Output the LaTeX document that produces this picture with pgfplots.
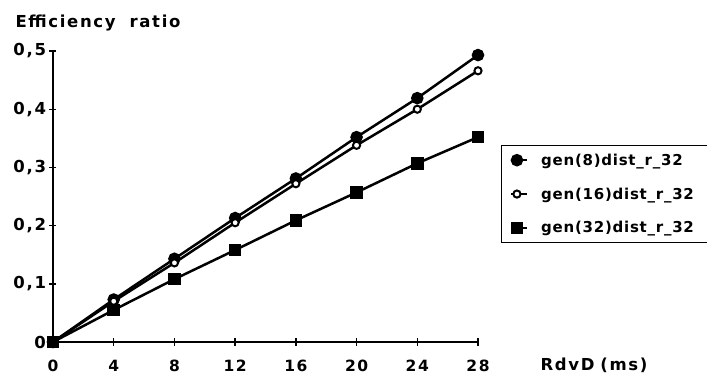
\documentclass[border=0pt]{standalone}
\usepackage{fontspec}
\setmainfont{DejaVu Sans}[LetterSpace=10]
\newfontfamily\legendfont{DejaVu Sans}[LetterSpace=5]
\usepackage{pgfplots}
\pgfplotsset{compat=1.18}
\begin{document}
\begin{tikzpicture}
\useasboundingbox (-53bp,-32bp) rectangle (654bp,342bp);
\begin{axis}[
  at={(0,0)}, anchor=south west,
  scale only axis, width=425bp, height=291bp,
  xmin=0, xmax=28, ymin=0, ymax=0.5,
  clip=false,
  axis lines=left,
  axis line style={line width=1.8bp, -},
  xtick={0,4,...,28},
  ytick={0,0.1,0.2,0.3,0.4,0.5},
  tick align=center, major tick length=7bp,
  tick style={line width=1.4bp, black},
  /pgf/number format/assume math mode=true,
  yticklabel style={/pgf/number format/use comma,
    /pgf/number format/fixed, /pgf/number format/precision=1,
    font=\fontsize{16.5bp}{18bp}\selectfont\bfseries},
  xticklabel style={font=\fontsize{15.5bp}{17bp}\selectfont\bfseries, yshift=-11bp},
  xlabel={RdvD\hspace{6bp}(ms)},
  ylabel={Efficiency\hspace{14bp}ratio},
  every axis x label/.style={at={(rel axis cs:1,0)}, anchor=base west,
    xshift=59bp, yshift=-28bp, font=\fontsize{16.5bp}{18bp}\selectfont\bfseries},
  every axis y label/.style={at={(rel axis cs:0,1)}, anchor=base west,
    xshift=-41bp, yshift=24bp, font=\fontsize{16.5bp}{18bp}\selectfont\bfseries},
  legend style={at={(rel axis cs:1.054,0.677)}, anchor=north west,
    draw=black, line width=1.5bp, inner xsep=8bp, inner ysep=6bp,
    row sep=17bp, column sep=11bp,
    font=\fontsize{15bp}{17bp}\selectfont\legendfont\bfseries},
  legend cell align=left,
  legend image code/.code={%
    \draw[#1, mark=none] (0bp,0bp) -- (16bp,0bp);
    \draw[#1] plot coordinates {(6bp,0bp)};},
]
% filled circles
\addplot[black, line width=2.5bp, mark=*, mark size=5bp, mark options={solid}]
  coordinates {(0,0) (4,0.073) (8,0.143) (12,0.213) (16,0.281) (20,0.352) (24,0.419) (28,0.493)};
% open circles
\addplot[black, line width=2.5bp, mark=*, mark size=3.6bp,
    mark options={solid, fill=white, draw=black, line width=2bp}]
  coordinates {(0,0) (4,0.070) (8,0.136) (12,0.205) (16,0.272) (20,0.338) (24,0.400) (28,0.466)};
% filled squares
\addplot[black, line width=2.5bp, mark=square*, mark size=5bp, mark options={solid}]
  coordinates {(0,0) (4,0.055) (8,0.108) (12,0.158) (16,0.209) (20,0.257) (24,0.307) (28,0.352)};
\legend{\makebox[175bp][l]{gen(8)dist\_r\_32},
        \makebox[175bp][l]{gen(16)dist\_r\_32},
        \makebox[175bp][l]{gen(32)dist\_r\_32}}
\end{axis}
\end{tikzpicture}
\end{document}
